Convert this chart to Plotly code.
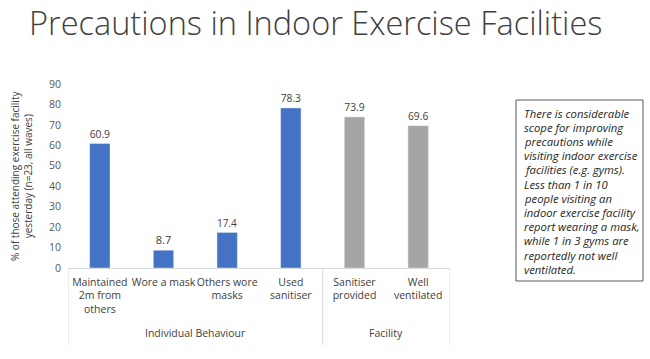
import plotly.graph_objects as go

categories = ["Maintained<br>2m from<br>others", "Wore a mask", "Others wore<br>masks",
              "Used<br>sanitiser", "Sanitiser<br>provided", "Well<br>ventilated"]
values = [60.9, 8.7, 17.4, 78.3, 73.9, 69.6]
groups = ["Individual Behaviour", "Individual Behaviour", "Individual Behaviour",
          "Individual Behaviour", "Facility", "Facility"]
bar_colors = ["#4472C4", "#4472C4", "#4472C4", "#4472C4", "#A5A5A5", "#A5A5A5"]
y_ticks = [0, 10, 20, 30, 40, 50, 60, 70, 80, 90]

title_text = "Precautions in Indoor Exercise Facilities"
y_title = "% of those attending exercise facility<br>yesterday (n=23, all waves)"
note_lines = ["There is considerable", "scope for improving", "precautions while",
              "visiting indoor exercise", "facilities (e.g. gyms).", "Less than 1 in 10",
              "people visiting an", "indoor exercise facility", "report wearing a mask,",
              "while 1 in 3 gyms are", "reportedly not well", "ventilated."]

FONT = "Open Sans"
fig = go.Figure(go.Bar(
    x=list(range(len(categories))), y=values, marker_color=bar_colors,
    width=0.32, text=[f"{v:.1f}" for v in values], textposition="outside",
    textfont=dict(size=11, color="#404040", family=FONT), cliponaxis=False,
))

L, R, T, B = 68, 200, 84, 91
W, H = 650, 359
pw, ph = W - L - R, H - T - B

def px_x(x):
    return (x - L) / pw

def px_y(y):
    return (H - B - y) / ph

fig.update_layout(
    width=W, height=H, margin=dict(l=L, r=R, t=T, b=B, autoexpand=False),
    plot_bgcolor="white", paper_bgcolor="white", showlegend=False,
    font=dict(family=FONT, color="#595959"),
    xaxis=dict(tickmode="array", tickvals=list(range(len(categories))), ticktext=categories,
               range=[-0.5, len(categories) - 0.5], showgrid=False, showline=True,
               linecolor="#D9D9D9", ticks="", tickangle=0, automargin=False,
               ticklabelstandoff=4, tickfont=dict(size=10.5, color="#404040")),
    yaxis=dict(range=[0, 90], tickvals=y_ticks, showgrid=False, showline=False, zeroline=False,
               automargin=False, tickfont=dict(size=10.5, color="#595959"), ticklabelstandoff=6),
)

# Title
fig.add_annotation(text=title_text, xref="paper", yref="paper", x=px_x(27), y=px_y(22),
                   xanchor="left", yanchor="middle", showarrow=False,
                   font=dict(size=32.5, color="#404040", family=FONT, weight=300))
# Y-axis title
fig.add_annotation(text=y_title, xref="paper", yref="paper", x=px_x(21), y=px_y(176),
                   xanchor="center", yanchor="middle", showarrow=False, textangle=-90,
                   font=dict(size=10, color="#404040", family=FONT))

# Group separators and labels
n_ind = groups.count("Individual Behaviour")
for xv in [-0.5, n_ind - 0.5, len(categories) - 0.5]:
    fig.add_shape(type="line", xref="x", yref="paper", x0=xv, x1=xv,
                  y0=0, y1=px_y(345), line=dict(color="#D9D9D9", width=1))
for name in ["Individual Behaviour", "Facility"]:
    idx = [i for i, g in enumerate(groups) if g == name]
    fig.add_annotation(text=name, xref="x", yref="paper", x=(idx[0] + idx[-1]) / 2,
                       y=px_y(333), showarrow=False, yanchor="middle",
                       font=dict(size=10.5, color="#404040", family=FONT))

# Note box
fig.add_shape(type="rect", xref="paper", yref="paper", x0=px_x(516), x1=px_x(643),
              y0=px_y(281), y1=px_y(100), line=dict(color="#595959", width=1))
for i, line in enumerate(note_lines):
    fig.add_annotation(text=f"<i>{line}</i>", xref="paper", yref="paper",
                       x=px_x(522), y=px_y(113 + i * 14.2), xanchor="left", yanchor="middle",
                       showarrow=False, font=dict(size=11.3, color="#262626", family=FONT))

fig.write_html("out.html", config={"displayModeBar": False},
               post_script="document.body.style.margin='0';")
